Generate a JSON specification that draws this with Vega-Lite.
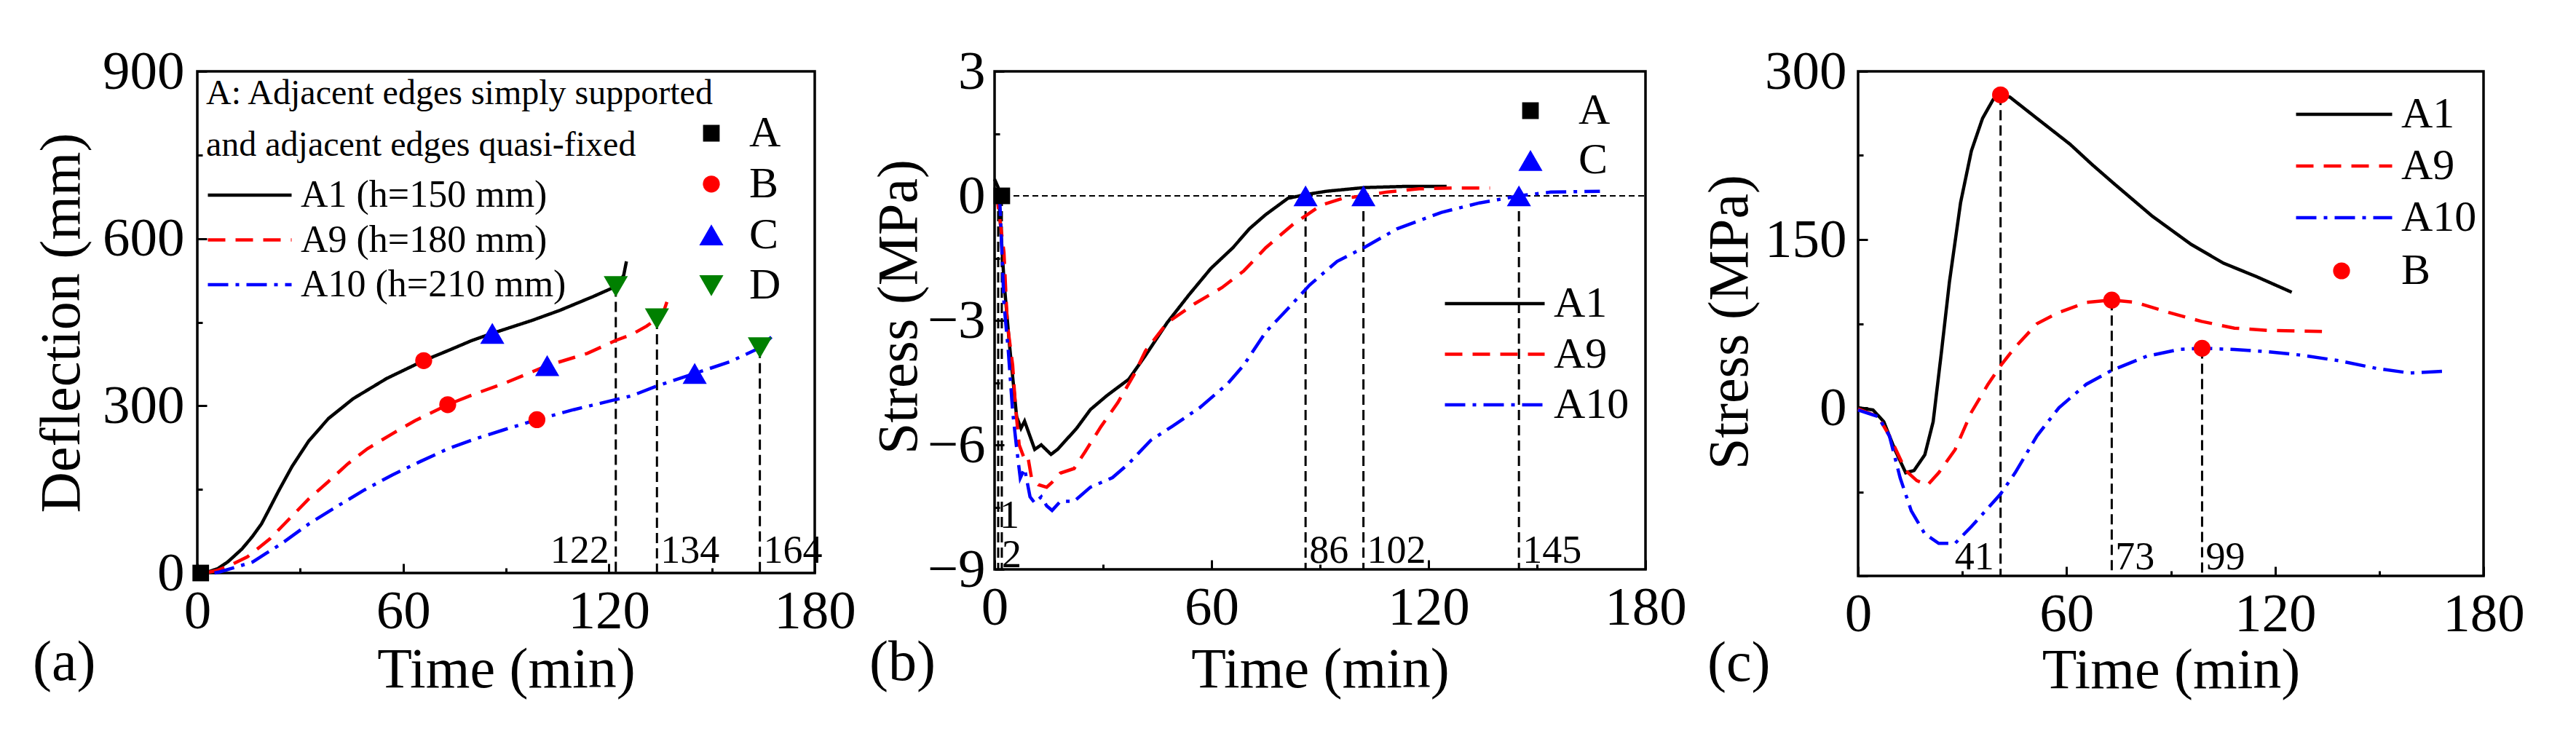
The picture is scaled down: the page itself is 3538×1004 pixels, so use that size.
{
"$schema":"https://vega.github.io/schema/vega-lite/v6.json",
"autosize":{"type":"pad"},
"padding":{"left":43,"top":59,"right":10,"bottom":10},
"background":"white",
"config":{
 "font":"Liberation Serif",
 "view":{"stroke":"black","strokeWidth":3.5},
 "axis":{"grid":false,"domain":false,"tickColor":"black","tickWidth":3,"labelFont":"Liberation Serif","labelFontSize":75,"labelColor":"black","titleFont":"Liberation Serif","titleFontSize":78,"titleFontWeight":"normal","titleColor":"black","labelOverlap":false,"labelFlush":false,"labelBound":false},
 "legend":{"padding":0,"labelFont":"Liberation Serif","titleFont":"Liberation Serif","labelColor":"black","titleColor":"black","labelLimit":3000,"titleLimit":3000},
 "text":{"font":"Liberation Serif","color":"black"},
 "title":{"font":"Liberation Serif","fontWeight":"normal","color":"black","fontSize":78}
},
"datasets":{
 "cA":[
  {"s":"A1","t":1,"v":0},{"s":"A1","t":3.2,"v":2},{"s":"A1","t":6,"v":8},{"s":"A1","t":8.9,"v":20},{"s":"A1","t":13,"v":43},{"s":"A1","t":16,"v":65},{"s":"A1","t":18.7,"v":88},{"s":"A1","t":21,"v":115},{"s":"A1","t":23.6,"v":146},{"s":"A1","t":27.6,"v":191},{"s":"A1","t":32.5,"v":237},{"s":"A1","t":38.2,"v":277},{"s":"A1","t":45.5,"v":313},{"s":"A1","t":55.2,"v":349},{"s":"A1","t":66,"v":381},{"s":"A1","t":73.1,"v":399},{"s":"A1","t":80,"v":417},{"s":"A1","t":86,"v":430},{"s":"A1","t":97.5,"v":453},{"s":"A1","t":105.6,"v":471},{"s":"A1","t":115.4,"v":496},{"s":"A1","t":122,"v":514},{"s":"A1","t":124.3,"v":534},{"s":"A1","t":125.1,"v":559},
  {"s":"A9","t":3,"v":1},{"s":"A9","t":5.7,"v":4.5},{"s":"A9","t":10,"v":15},{"s":"A9","t":14.6,"v":29},{"s":"A9","t":21.1,"v":61},{"s":"A9","t":26.8,"v":97},{"s":"A9","t":32.5,"v":133},{"s":"A9","t":38.2,"v":164},{"s":"A9","t":43.9,"v":196},{"s":"A9","t":49.6,"v":223},{"s":"A9","t":56.9,"v":250},{"s":"A9","t":63.4,"v":273},{"s":"A9","t":73,"v":302},{"s":"A9","t":81.2,"v":322},{"s":"A9","t":89.4,"v":340},{"s":"A9","t":102,"v":372},{"s":"A9","t":113.7,"v":394},{"s":"A9","t":121.9,"v":417},{"s":"A9","t":126.7,"v":428},{"s":"A9","t":131,"v":443},{"s":"A9","t":134,"v":456},{"s":"A9","t":136,"v":470},{"s":"A9","t":137,"v":488},
  {"s":"A10","t":5,"v":0},{"s":"A10","t":6.5,"v":2},{"s":"A10","t":11,"v":10},{"s":"A10","t":16.2,"v":20},{"s":"A10","t":20,"v":35},{"s":"A10","t":24.4,"v":52},{"s":"A10","t":32.5,"v":88},{"s":"A10","t":40.6,"v":119},{"s":"A10","t":48.7,"v":149},{"s":"A10","t":56.9,"v":176},{"s":"A10","t":65,"v":200},{"s":"A10","t":73.1,"v":223},{"s":"A10","t":81.2,"v":241},{"s":"A10","t":89.4,"v":257},{"s":"A10","t":99,"v":275},{"s":"A10","t":109.7,"v":293},{"s":"A10","t":121.9,"v":311},{"s":"A10","t":126.7,"v":318},{"s":"A10","t":133.7,"v":335},{"s":"A10","t":145,"v":358},{"s":"A10","t":155.3,"v":379},{"s":"A10","t":164,"v":404},{"s":"A10","t":168,"v":427}
 ],
 "pA":[
  {"pt":"A","t":1,"v":0},
  {"pt":"B","t":66,"v":381},{"pt":"B","t":73,"v":302},{"pt":"B","t":99,"v":275},
  {"pt":"C","t":86,"v":430},{"pt":"C","t":102,"v":372},{"pt":"C","t":145,"v":358},
  {"pt":"D","t":122,"v":514},{"pt":"D","t":134,"v":456},{"pt":"D","t":164,"v":404}
 ],
 "vA":[{"t":122,"v":514,"base":0},{"t":134,"v":456,"base":0},{"t":164,"v":404,"base":0}],
 "cB":[
  {"s":"A1","t":0,"v":0.4},{"s":"A1","t":1,"v":0.2},{"s":"A1","t":2.6,"v":-2.04},{"s":"A1","t":4.1,"v":-3.57},{"s":"A1","t":6.1,"v":-5.32},{"s":"A1","t":7.3,"v":-5.6},{"s":"A1","t":8.3,"v":-5.43},{"s":"A1","t":11.1,"v":-6.11},{"s":"A1","t":12.9,"v":-6.0},{"s":"A1","t":15.6,"v":-6.23},{"s":"A1","t":17.4,"v":-6.11},{"s":"A1","t":19.7,"v":-5.89},{"s":"A1","t":22.7,"v":-5.6},{"s":"A1","t":26.5,"v":-5.15},{"s":"A1","t":31.1,"v":-4.81},{"s":"A1","t":37.1,"v":-4.42},{"s":"A1","t":41.7,"v":-3.85},{"s":"A1","t":47.7,"v":-3.06},{"s":"A1","t":53.8,"v":-2.38},{"s":"A1","t":59.8,"v":-1.75},{"s":"A1","t":65.9,"v":-1.25},{"s":"A1","t":70.5,"v":-0.79},{"s":"A1","t":75,"v":-0.45},{"s":"A1","t":81.1,"v":-0.06},{"s":"A1","t":86,"v":0.03},{"s":"A1","t":91.7,"v":0.11},{"s":"A1","t":102.3,"v":0.2},{"s":"A1","t":114.4,"v":0.23},{"s":"A1","t":125,"v":0.23},
  {"s":"A9","t":0.5,"v":0.1},{"s":"A9","t":2.6,"v":-1.36},{"s":"A9","t":3.5,"v":-3.06},{"s":"A9","t":5,"v":-4.08},{"s":"A9","t":5.8,"v":-5.1},{"s":"A9","t":6.8,"v":-6.0},{"s":"A9","t":8,"v":-6.28},{"s":"A9","t":9.1,"v":-6.23},{"s":"A9","t":10.2,"v":-6.79},{"s":"A9","t":12.1,"v":-6.96},{"s":"A9","t":14.4,"v":-7.02},{"s":"A9","t":15.9,"v":-6.9},{"s":"A9","t":18.2,"v":-6.68},{"s":"A9","t":22,"v":-6.57},{"s":"A9","t":25,"v":-6.17},{"s":"A9","t":29.5,"v":-5.55},{"s":"A9","t":34.1,"v":-4.98},{"s":"A9","t":38.6,"v":-4.3},{"s":"A9","t":41.7,"v":-3.74},{"s":"A9","t":47.7,"v":-3.06},{"s":"A9","t":55.3,"v":-2.6},{"s":"A9","t":62.9,"v":-2.21},{"s":"A9","t":68.9,"v":-1.81},{"s":"A9","t":75,"v":-1.25},{"s":"A9","t":82.6,"v":-0.68},{"s":"A9","t":90.2,"v":-0.23},{"s":"A9","t":96.2,"v":-0.06},{"s":"A9","t":102,"v":0},{"s":"A9","t":108.3,"v":0.09},{"s":"A9","t":117.4,"v":0.17},{"s":"A9","t":126.5,"v":0.19},{"s":"A9","t":137,"v":0.19},
  {"s":"A10","t":1,"v":0},{"s":"A10","t":1.5,"v":-0.23},{"s":"A10","t":2.6,"v":-2.6},{"s":"A10","t":3.8,"v":-3.74},{"s":"A10","t":5,"v":-5.2},{"s":"A10","t":6,"v":-6.0},{"s":"A10","t":7.1,"v":-6.8},{"s":"A10","t":8.3,"v":-6.57},{"s":"A10","t":9.8,"v":-7.25},{"s":"A10","t":11.1,"v":-7.4},{"s":"A10","t":12.9,"v":-7.25},{"s":"A10","t":14.4,"v":-7.47},{"s":"A10","t":15.9,"v":-7.58},{"s":"A10","t":18.2,"v":-7.36},{"s":"A10","t":22,"v":-7.36},{"s":"A10","t":26.5,"v":-7.02},{"s":"A10","t":32.6,"v":-6.79},{"s":"A10","t":37.1,"v":-6.45},{"s":"A10","t":43.2,"v":-5.89},{"s":"A10","t":49.2,"v":-5.55},{"s":"A10","t":56.8,"v":-5.1},{"s":"A10","t":64.4,"v":-4.53},{"s":"A10","t":68.9,"v":-4.08},{"s":"A10","t":75,"v":-3.28},{"s":"A10","t":81.1,"v":-2.72},{"s":"A10","t":87.1,"v":-2.15},{"s":"A10","t":94.7,"v":-1.58},{"s":"A10","t":102.3,"v":-1.24},{"s":"A10","t":111.4,"v":-0.79},{"s":"A10","t":123.5,"v":-0.4},{"s":"A10","t":134.1,"v":-0.17},{"s":"A10","t":145,"v":0},{"s":"A10","t":153.8,"v":0.09},{"s":"A10","t":167.4,"v":0.11}
 ],
 "pB":[{"pt":"A","t":2,"v":0},{"pt":"C","t":86,"v":0},{"pt":"C","t":102,"v":0},{"pt":"C","t":145,"v":0}],
 "vB":[{"t":1,"v":0,"base":-9},{"t":2,"v":0,"base":-9},{"t":86,"v":0,"base":-9},{"t":102,"v":0,"base":-9},{"t":145,"v":0,"base":-9}],
 "zB":[{"t":0,"t2":180,"v":0}],
 "cC":[
  {"s":"A1","t":0,"v":0},{"s":"A1","t":4.3,"v":-2},{"s":"A1","t":7.4,"v":-12.5},{"s":"A1","t":10.6,"v":-37.5},{"s":"A1","t":13.7,"v":-58},{"s":"A1","t":16.1,"v":-56},{"s":"A1","t":19.2,"v":-42},{"s":"A1","t":21.6,"v":-12.5},{"s":"A1","t":24,"v":50},{"s":"A1","t":26.3,"v":112.5},{"s":"A1","t":29.5,"v":183},{"s":"A1","t":32.6,"v":229},{"s":"A1","t":35.8,"v":258},{"s":"A1","t":38.9,"v":275},{"s":"A1","t":41,"v":279},{"s":"A1","t":43.7,"v":277},{"s":"A1","t":51.5,"v":258},{"s":"A1","t":61,"v":235},{"s":"A1","t":67.3,"v":217},{"s":"A1","t":73.6,"v":200},{"s":"A1","t":84.6,"v":171},{"s":"A1","t":95.7,"v":146},{"s":"A1","t":105.1,"v":129},{"s":"A1","t":114.6,"v":117},{"s":"A1","t":124.8,"v":103},
  {"s":"A9","t":0,"v":-1},{"s":"A9","t":5.8,"v":-8},{"s":"A9","t":9,"v":-25},{"s":"A9","t":13.7,"v":-56},{"s":"A9","t":16.9,"v":-65},{"s":"A9","t":20,"v":-69},{"s":"A9","t":23.2,"v":-58},{"s":"A9","t":27.9,"v":-37.5},{"s":"A9","t":32.6,"v":-4},{"s":"A9","t":37.4,"v":21},{"s":"A9","t":41,"v":37.5},{"s":"A9","t":45.2,"v":54},{"s":"A9","t":51.5,"v":75},{"s":"A9","t":57.8,"v":85},{"s":"A9","t":65.7,"v":94},{"s":"A9","t":73,"v":96},{"s":"A9","t":79.9,"v":94},{"s":"A9","t":89.4,"v":85},{"s":"A9","t":98.8,"v":77},{"s":"A9","t":108.3,"v":71},{"s":"A9","t":117.7,"v":69},{"s":"A9","t":133.5,"v":68},
  {"s":"A10","t":0,"v":-2},{"s":"A10","t":5.8,"v":-8},{"s":"A10","t":9,"v":-25},{"s":"A10","t":12.1,"v":-62.5},{"s":"A10","t":15.3,"v":-92},{"s":"A10","t":19.2,"v":-112.5},{"s":"A10","t":23.2,"v":-121},{"s":"A10","t":27.9,"v":-121},{"s":"A10","t":32.6,"v":-106},{"s":"A10","t":41,"v":-77},{"s":"A10","t":45.2,"v":-58},{"s":"A10","t":51.5,"v":-25},{"s":"A10","t":57.8,"v":0},{"s":"A10","t":65.7,"v":21},{"s":"A10","t":72.8,"v":33},{"s":"A10","t":83.1,"v":46},{"s":"A10","t":92.5,"v":52},{"s":"A10","t":99,"v":53},{"s":"A10","t":108.3,"v":52},{"s":"A10","t":117.7,"v":50},{"s":"A10","t":127.2,"v":47},{"s":"A10","t":138.2,"v":42},{"s":"A10","t":149.3,"v":35},{"s":"A10","t":158.7,"v":31},{"s":"A10","t":168.2,"v":32.5}
 ],
 "pC":[{"pt":"B","t":41,"v":279},{"pt":"B","t":73,"v":96},{"pt":"B","t":99,"v":53}],
 "vC":[{"t":41,"v":279,"base":-150},{"t":73,"v":96,"base":-150},{"t":99,"v":53,"base":-150}]
},
"bounds":"flush",
"spacing":247,
"resolve":{"scale":{"stroke":"independent","strokeDash":"independent","fill":"independent","shape":"independent","size":"independent"}},
"hconcat":[
 {
  "width":848,"height":689,
  "title":{"text":"(a)","orient":"bottom","anchor":"start","frame":"group","dx":-226,"offset":-25,"baseline":"alphabetic"},
  "encoding":{
   "x":{"field":"t","type":"quantitative","scale":{"domain":[0,180],"nice":false,"zero":false},"axis":{"values":[0,30,60,90,120,150,180],"labelExpr":"datum.value % 60 === 0 ? datum.label : ''","tickSize":{"condition":{"test":"datum.value % 60 === 0","value":-13},"value":-7},"title":"Time (min)","titleY":156,"titleBaseline":"alphabetic","labelPadding":29}},
   "y":{"field":"v","type":"quantitative","scale":{"domain":[0,900],"nice":false,"zero":false},"axis":{"values":[0,150,300,450,600,750,900],"labelExpr":"datum.value % 300 === 0 ? datum.label : ''","tickSize":{"condition":{"test":"datum.value % 300 === 0","value":-13},"value":-7},"title":"Deflection (mm)","titleX":-163,"titleY":345,"titleAngle":270,"titleBaseline":"alphabetic","titleAlign":"center","labelPadding":31}}
  },
  "layer":[
   {"data":{"name":"vA"},"mark":{"type":"rule","strokeDash":[14,7],"strokeWidth":3,"color":"black"},"encoding":{"y2":{"field":"base"}}},
   {"data":{"name":"cA"},"mark":{"type":"line","strokeWidth":4.5,"strokeCap":"butt"},
    "encoding":{
     "stroke":{"field":"s","type":"nominal","scale":{"domain":["A1","A9","A10"],"range":["#000000","#ff0000","#0000ff"]},"legend":{"orient":"none","legendX":12,"legendY":7,"title":"A: Adjacent edges simply supported","encode":{"title":{"update":{"text":{"value":["A: Adjacent edges simply supported","and adjacent edges quasi-fixed"]}}}},"titleFontSize":48,"titleFontWeight":"normal","titleLineHeight":71,"titlePadding":18,"titleAnchor":"start","titleBaseline":"top","labelFontSize":52,"labelOffset":10,"symbolType":"stroke","symbolSize":13225,"symbolStrokeWidth":4.5,"clipHeight":52,"rowPadding":9.5,"labelExpr":"datum.label === 'A1' ? 'A1 (h=150 mm)' : datum.label === 'A9' ? 'A9 (h=180 mm)' : 'A10 (h=210 mm)'"}},
     "strokeDash":{"field":"s","type":"nominal","scale":{"domain":["A1","A9","A10"],"range":[[1,0],[24,14],[28,10,5,10]]},"legend":{"orient":"none","legendX":12,"legendY":7,"title":"A: Adjacent edges simply supported","encode":{"title":{"update":{"text":{"value":["A: Adjacent edges simply supported","and adjacent edges quasi-fixed"]}}}},"titleFontSize":48,"titleFontWeight":"normal","titleLineHeight":71,"titlePadding":18,"titleAnchor":"start","titleBaseline":"top","labelFontSize":52,"labelOffset":10,"symbolType":"stroke","symbolSize":13225,"symbolStrokeWidth":4.5,"clipHeight":52,"rowPadding":9.5,"labelExpr":"datum.label === 'A1' ? 'A1 (h=150 mm)' : datum.label === 'A9' ? 'A9 (h=180 mm)' : 'A10 (h=210 mm)'"}}
    }},
   {"data":{"name":"pA"},"mark":{"type":"point","filled":true,"opacity":1,"strokeWidth":0},
    "encoding":{
     "fill":{"field":"pt","type":"nominal","scale":{"domain":["A","B","C","D"],"range":["#000000","#ff0000","#0000ff","#008000"]},"legend":{"orient":"none","legendX":676,"legendY":55,"title":null,"labelFontSize":60,"labelOffset":22,"symbolStrokeWidth":0,"clipHeight":60,"rowPadding":9.8}},
     "shape":{"field":"pt","type":"nominal","scale":{"domain":["A","B","C","D"],"range":["square","circle","triangle-up","triangle-down"]},"legend":{"orient":"none","legendX":676,"legendY":55,"title":null,"labelFontSize":60,"labelOffset":22,"symbolStrokeWidth":0,"clipHeight":60,"rowPadding":9.8}},
     "size":{"field":"pt","type":"nominal","scale":{"type":"ordinal","domain":["A","B","C","D"],"range":[520,540,1100,1100]},"legend":{"orient":"none","legendX":676,"legendY":55,"title":null,"labelFontSize":60,"labelOffset":22,"symbolStrokeWidth":0,"clipHeight":60,"rowPadding":9.8}}
    }},
   {"data":{"name":"vA"},"transform":[{"filter":"datum.t === 122"}],"mark":{"type":"text","align":"right","baseline":"alphabetic","dx":-9,"dy":-14,"fontSize":54},"encoding":{"y":{"field":"base","type":"quantitative"},"text":{"field":"t","type":"quantitative","format":"d"}}},
   {"data":{"name":"vA"},"transform":[{"filter":"datum.t !== 122"}],"mark":{"type":"text","align":"left","baseline":"alphabetic","dx":5,"dy":-14,"fontSize":54},"encoding":{"y":{"field":"base","type":"quantitative"},"text":{"field":"t","type":"quantitative","format":"d"}}}
  ]
 },
 {
  "bounds":"flush",
  "spacing":292,
  "resolve":{"scale":{"stroke":"independent","strokeDash":"independent","fill":"independent","shape":"independent","size":"independent"}},
  "hconcat":[
   {
    "width":894,"height":684,
    "title":{"text":"(b)","orient":"bottom","anchor":"start","frame":"group","dx":-172,"offset":-25,"baseline":"alphabetic"},
    "encoding":{
     "x":{"field":"t","type":"quantitative","scale":{"domain":[0,180],"nice":false,"zero":false},"axis":{"values":[0,30,60,90,120,150,180],"labelExpr":"datum.value % 60 === 0 ? datum.label : ''","tickSize":{"condition":{"test":"datum.value % 60 === 0","value":-13},"value":-7},"title":"Time (min)","titleY":161,"titleBaseline":"alphabetic","labelPadding":29}},
     "y":{"field":"v","type":"quantitative","scale":{"domain":[-9,3],"nice":false,"zero":false},"axis":{"values":[-9,-7.5,-6,-4.5,-3,-1.5,0,1.5,3],"labelExpr":"datum.value % 3 === 0 ? replace(datum.label, '-', '\u2212') : ''","tickSize":{"condition":{"test":"datum.value % 3 === 0","value":-13},"value":-7},"title":"Stress (MPa)","titleX":-108,"titleY":323,"titleAngle":270,"titleBaseline":"alphabetic","titleAlign":"center","labelPadding":26}}
    },
    "layer":[
     {"data":{"name":"zB"},"mark":{"type":"rule","strokeDash":[8,5],"strokeWidth":2,"color":"black"},"encoding":{"x2":{"field":"t2"}}},
     {"data":{"name":"vB"},"mark":{"type":"rule","strokeDash":[14,7],"strokeWidth":3,"color":"black"},"encoding":{"y2":{"field":"base"}}},
     {"data":{"name":"cB"},"mark":{"type":"line","strokeWidth":4.5,"strokeCap":"butt"},
      "encoding":{
       "stroke":{"field":"s","type":"nominal","scale":{"domain":["A1","A9","A10"],"range":["#000000","#ff0000","#0000ff"]},"legend":{"orient":"none","legendX":616,"legendY":289,"title":null,"labelFontSize":60,"labelOffset":10,"symbolType":"stroke","symbolSize":18769,"symbolStrokeWidth":4.5,"clipHeight":60,"rowPadding":9.5}},
       "strokeDash":{"field":"s","type":"nominal","scale":{"domain":["A1","A9","A10"],"range":[[1,0],[24,14],[28,10,5,10]]},"legend":{"orient":"none","legendX":616,"legendY":289,"title":null,"labelFontSize":60,"labelOffset":10,"symbolType":"stroke","symbolSize":18769,"symbolStrokeWidth":4.5,"clipHeight":60,"rowPadding":9.5}}
      }},
     {"data":{"name":"pB"},"mark":{"type":"point","filled":true,"opacity":1,"strokeWidth":0},
      "encoding":{
       "fill":{"field":"pt","type":"nominal","scale":{"domain":["A","C"],"range":["#000000","#0000ff"]},"legend":{"orient":"none","legendX":706,"legendY":24,"title":null,"labelFontSize":60,"labelOffset":36,"symbolStrokeWidth":0,"clipHeight":60,"rowPadding":8.3}},
       "shape":{"field":"pt","type":"nominal","scale":{"domain":["A","C"],"range":["square","triangle-up"]},"legend":{"orient":"none","legendX":706,"legendY":24,"title":null,"labelFontSize":60,"labelOffset":36,"symbolStrokeWidth":0,"clipHeight":60,"rowPadding":8.3}},
       "size":{"field":"pt","type":"nominal","scale":{"type":"ordinal","domain":["A","C"],"range":[520,1100]},"legend":{"orient":"none","legendX":706,"legendY":24,"title":null,"labelFontSize":60,"labelOffset":36,"symbolStrokeWidth":0,"clipHeight":60,"rowPadding":8.3}}
      }},
     {"data":{"name":"vB"},"transform":[{"filter":"datum.t === 1"}],"mark":{"type":"text","align":"left","baseline":"alphabetic","dx":2,"dy":-57,"fontSize":54},"encoding":{"y":{"field":"base","type":"quantitative"},"text":{"field":"t","type":"quantitative","format":"d"}}},
     {"data":{"name":"vB"},"transform":[{"filter":"datum.t === 2"}],"mark":{"type":"text","align":"left","baseline":"alphabetic","dx":0,"dy":-3,"fontSize":54},"encoding":{"y":{"field":"base","type":"quantitative"},"text":{"field":"t","type":"quantitative","format":"d"}}},
     {"data":{"name":"vB"},"transform":[{"filter":"datum.t > 2"}],"mark":{"type":"text","align":"left","baseline":"alphabetic","dx":5,"dy":-9,"fontSize":54},"encoding":{"y":{"field":"base","type":"quantitative"},"text":{"field":"t","type":"quantitative","format":"d"}}}
    ]
   },
   {
    "width":859,"height":693,
    "title":{"text":"(c)","orient":"bottom","anchor":"start","frame":"group","dx":-207,"offset":-25,"baseline":"alphabetic"},
    "encoding":{
     "x":{"field":"t","type":"quantitative","scale":{"domain":[0,180],"nice":false,"zero":false},"axis":{"values":[0,30,60,90,120,150,180],"labelExpr":"datum.value % 60 === 0 ? datum.label : ''","tickSize":{"condition":{"test":"datum.value % 60 === 0","value":-13},"value":-7},"title":"Time (min)","titleY":153,"titleBaseline":"alphabetic","labelPadding":29}},
     "y":{"field":"v","type":"quantitative","scale":{"domain":[-150,300],"nice":false,"zero":false},"axis":{"values":[-150,-75,0,75,150,225,300],"labelExpr":"datum.value % 150 === 0 && datum.value >= 0 ? datum.label : ''","tickSize":{"condition":{"test":"datum.value % 150 === 0","value":-13},"value":-7},"title":"Stress (MPa)","titleX":-153,"titleY":344,"titleAngle":270,"titleBaseline":"alphabetic","titleAlign":"center","labelPadding":29}}
    },
    "layer":[
     {"data":{"name":"vC"},"mark":{"type":"rule","strokeDash":[14,7],"strokeWidth":3,"color":"black"},"encoding":{"y2":{"field":"base"}}},
     {"data":{"name":"cC"},"mark":{"type":"line","strokeWidth":4.5,"strokeCap":"butt"},
      "encoding":{
       "stroke":{"field":"s","type":"nominal","scale":{"domain":["A1","A9","A10"],"range":["#000000","#ff0000","#0000ff"]},"legend":{"orient":"none","legendX":599,"legendY":29,"title":null,"labelFontSize":60,"labelOffset":10,"symbolType":"stroke","symbolSize":17424,"symbolStrokeWidth":4.5,"clipHeight":60,"rowPadding":11}},
       "strokeDash":{"field":"s","type":"nominal","scale":{"domain":["A1","A9","A10"],"range":[[1,0],[24,14],[28,10,5,10]]},"legend":{"orient":"none","legendX":599,"legendY":29,"title":null,"labelFontSize":60,"labelOffset":10,"symbolType":"stroke","symbolSize":17424,"symbolStrokeWidth":4.5,"clipHeight":60,"rowPadding":11}}
      }},
     {"data":{"name":"pC"},"mark":{"type":"point","filled":true,"size":540,"opacity":1,"strokeWidth":0},
      "encoding":{
       "fill":{"field":"pt","type":"nominal","scale":{"domain":["B"],"range":["#ff0000"]},"legend":{"orient":"none","legendX":634,"legendY":244,"title":null,"labelFontSize":60,"labelOffset":52,"symbolSize":540,"symbolStrokeWidth":0,"clipHeight":60}},
       "shape":{"field":"pt","type":"nominal","scale":{"domain":["B"],"range":["circle"]},"legend":{"orient":"none","legendX":634,"legendY":244,"title":null,"labelFontSize":60,"labelOffset":52,"symbolSize":540,"symbolStrokeWidth":0,"clipHeight":60}}
      }},
     {"data":{"name":"vC"},"transform":[{"filter":"datum.t === 41"}],"mark":{"type":"text","align":"right","baseline":"alphabetic","dx":-9,"dy":-9,"fontSize":54},"encoding":{"y":{"field":"base","type":"quantitative"},"text":{"field":"t","type":"quantitative","format":"d"}}},
     {"data":{"name":"vC"},"transform":[{"filter":"datum.t !== 41"}],"mark":{"type":"text","align":"left","baseline":"alphabetic","dx":5,"dy":-9,"fontSize":54},"encoding":{"y":{"field":"base","type":"quantitative"},"text":{"field":"t","type":"quantitative","format":"d"}}}
    ]
   }
  ]
 }
]
}
